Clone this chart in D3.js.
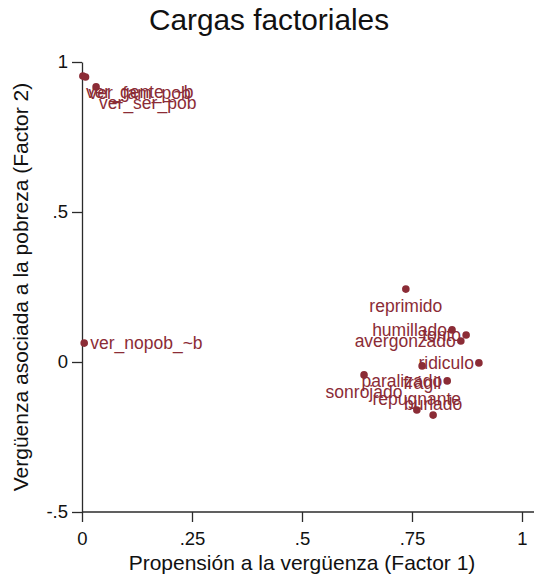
<!DOCTYPE html>
<html>
<head>
<meta charset="utf-8">
<script src="https://cdn.jsdelivr.net/npm/d3@7/dist/d3.min.js"></script>
<style>
  html, body { margin: 0; padding: 0; background: #fff; }
  svg { display: block; font-family: "Liberation Sans", Arial, sans-serif; }
</style>
</head>
<body>
<svg id="chart" width="534" height="577"></svg>
<script>
// Factor loadings: variable names and their loadings on the two factors
const variables = [
  "ver_gente_~b", "ver_fam_pob", "ver_ser_pob", "ver_nopob_~b",
  "reprimido", "humillado", "tonto", "avergonzado", "ridiculo",
  "frágil", "sonrojado", "paralizado", "repugnante", "burlado"
];
const factor1 = [0.002, 0.008, 0.032, 0.005, 0.736, 0.841, 0.873, 0.861, 0.902, 0.773, 0.641, 0.830, 0.761, 0.798];
const factor2 = [0.953, 0.950, 0.917, 0.063, 0.243, 0.107, 0.090, 0.070, -0.003, -0.013, -0.043, -0.063, -0.160, -0.177];

const xTicks = [0, 0.25, 0.5, 0.75, 1];
const xTickLabels = ["0", ".25", ".5", ".75", "1"];
const yTicks = [-0.5, 0, 0.5, 1];
const yTickLabels = ["-.5", "0", ".5", "1"];

// Clock position of each marker label (Stata style)
const labelClock = {
  "ver_gente_~b": 4, "ver_fam_pob": 4, "ver_ser_pob": 4, "ver_nopob_~b": 3,
  "reprimido": 6, "humillado": 9, "tonto": 9, "avergonzado": 9, "ridiculo": 9,
  "frágil": 6, "sonrojado": 6, "paralizado": 9, "repugnante": 12, "burlado": 12
};
const clockOffset = {
  3:  { anchor: "start",  dx: 6,  dy: 0 },
  4:  { anchor: "start",  dx: 3,  dy: 16 },
  6:  { anchor: "middle", dx: 0,  dy: 17 },
  9:  { anchor: "end",    dx: -5, dy: 0 },
  12: { anchor: "middle", dx: 0,  dy: -11 }
};

const points = variables.map((name, i) => ({ name, f1: factor1[i], f2: factor2[i] }));

const svg = d3.select("#chart");
const W = 534, H = 577;
const markColor = "#8b2c36";
const axisColor = "#2b2b2b";

const x = d3.scaleLinear().domain([0, 1]).range([82, 522]);
const y = d3.scaleLinear().domain([-0.5, 1]).range([512, 62]);

// Title
svg.append("text")
  .attr("x", 269).attr("y", 30)
  .attr("text-anchor", "middle")
  .attr("font-size", 29.8)
  .attr("fill", "#111")
  .text("Cargas factoriales");

// Axes
const xAxis = d3.axisBottom(x)
  .tickValues(xTicks)
  .tickFormat((d, i) => xTickLabels[i])
  .tickSize(10).tickPadding(10).tickSizeOuter(0);
const yAxis = d3.axisLeft(y)
  .tickValues(yTicks)
  .tickFormat((d, i) => yTickLabels[i])
  .tickSize(10).tickPadding(4).tickSizeOuter(0);

const gx = svg.append("g").attr("transform", `translate(0,${y(-0.5)})`).call(xAxis);
const gy = svg.append("g").attr("transform", `translate(${x(0)},0)`).call(yAxis);

// extend the horizontal axis line to the right edge
gx.select(".domain").attr("d", `M${x(0)},0H${W}`);

[gx, gy].forEach(g => {
  g.select(".domain").attr("stroke", axisColor).attr("stroke-width", 1.3);
  g.selectAll(".tick line").attr("stroke", axisColor).attr("stroke-width", 1.3);
  g.selectAll(".tick text")
    .attr("font-size", 18.5)
    .attr("fill", "#111")
    .attr("font-family", "'Liberation Sans', Arial, sans-serif");
});

// Axis titles
svg.append("text")
  .attr("x", 302).attr("y", 570)
  .attr("text-anchor", "middle")
  .attr("font-size", 21)
  .attr("fill", "#111")
  .text("Propensión a la vergüenza (Factor 1)");

svg.append("text")
  .attr("transform", `translate(28,${y(0.25)}) rotate(-90)`)
  .attr("text-anchor", "middle")
  .attr("font-size", 21)
  .attr("fill", "#111")
  .text("Vergüenza asociada a la pobreza (Factor 2)");

// Markers
svg.append("g").selectAll("circle")
  .data(points)
  .join("circle")
  .attr("cx", d => x(d.f1))
  .attr("cy", d => y(d.f2))
  .attr("r", 3.8)
  .attr("fill", markColor);

// Marker labels
svg.append("g").selectAll("text")
  .data(points)
  .join("text")
  .each(function (d) {
    const o = clockOffset[labelClock[d.name]];
    d3.select(this)
      .attr("x", x(d.f1) + o.dx)
      .attr("y", y(d.f2) + o.dy)
      .attr("dy", "0.36em")
      .attr("text-anchor", o.anchor);
  })
  .attr("font-size", 17.5)
  .attr("fill", markColor)
  .text(d => d.name);
</script>
</body>
</html>
